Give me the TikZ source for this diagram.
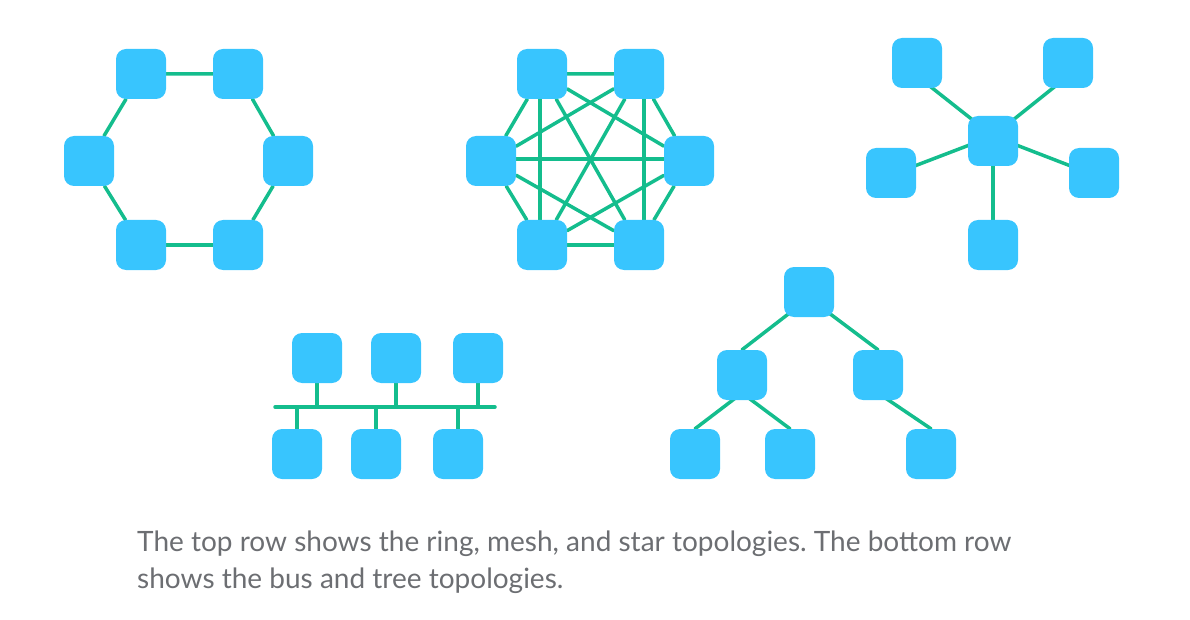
\documentclass[tikz,border=0pt]{standalone}
\usepackage{fontspec}
\setmainfont{Lato}
\usetikzlibrary{calc}
\definecolor{nodeblue}{HTML}{38C5FE}
\definecolor{linkgreen}{HTML}{14BD8D}
\definecolor{captiongray}{HTML}{6C6E72}
\pgfdeclarelayer{background}
\pgfsetlayers{background,main}
\frenchspacing
\tikzset{
  host/.style={rectangle, rounded corners=10pt, fill=nodeblue, minimum size=50pt, inner sep=0pt},
  link/.style={draw=linkgreen, line width=3.5pt, line cap=round},
}
\begin{document}
\begin{tikzpicture}[x={(1pt,0)}, y={(0,-1pt)}]
  % canvas
  \useasboundingbox (0,0) rectangle (1190,620);

  % ---------- ring ----------
  \node[host] (r1) at (141,74) {};
  \node[host] (r2) at (238,74) {};
  \node[host] (r3) at (288,161) {};
  \node[host] (r4) at (238,245) {};
  \node[host] (r5) at (141,245) {};
  \node[host] (r6) at (89,161) {};
  \begin{pgfonlayer}{background}
    \draw[link] (r1) -- (r2) -- (r3) -- (r4) -- (r5) -- (r6) -- (r1);
  \end{pgfonlayer}

  % ---------- mesh ----------
  \node[host] (m1) at (542,74) {};
  \node[host] (m2) at (639,74) {};
  \node[host] (m3) at (689,161) {};
  \node[host] (m4) at (639,245) {};
  \node[host] (m5) at (542,245) {};
  \node[host] (m6) at (491,161) {};
  \begin{pgfonlayer}{background}
    \draw[link] (m1) -- (m2) -- (m3) -- (m4) -- (m5) -- (m6) -- (m1);
    \draw[link] (m1) -- (m3);
    \draw[link] (m1) -- (m4);
    \draw[link] ($(m1)+(-2,0)$) -- ($(m5)+(-2,0)$);
    \draw[link] ($(m2)+(5,0)$) -- ($(m4)+(5,0)$);
    \draw[link] (m2) -- (m5);
    \draw[link] (m2) -- (m6);
    \draw[link] ($(m3)+(0,-2)$) -- ($(m6)+(0,-2)$);
    \draw[link] (m3) -- (m5);
    \draw[link] (m4) -- (m6);
  \end{pgfonlayer}

  % ---------- star ----------
  \node[host] (hub) at (993,141) {};
  \node[host] (s1) at (917,63) {};
  \node[host] (s2) at (1068,63) {};
  \node[host] (s3) at (891,173) {};
  \node[host] (s4) at (1094,173) {};
  \node[host] (s5) at (993,245) {};
  \coordinate (hubc) at ($(hub)+(0,-5)$);
  \begin{pgfonlayer}{background}
    \draw[link] (hubc) -- ($(s1)+(0,13)$);
    \draw[link] (hubc) -- ($(s2)+(0,13)$);
    \draw[link] (hubc) -- ($(s3)+(0,2)$);
    \draw[link] (hubc) -- ($(s4)+(0,2)$);
    \draw[link] (hub) -- (s5);
  \end{pgfonlayer}

  % ---------- bus ----------
  \node[host] (bt1) at (317,358) {};
  \node[host] (bt2) at (396,358) {};
  \node[host] (bt3) at (478,358) {};
  \node[host] (bb1) at (297,454) {};
  \node[host] (bb2) at (376,454) {};
  \node[host] (bb3) at (458,454) {};
  \coordinate (busL) at (275,407);
  \coordinate (busR) at (495,407);
  \begin{pgfonlayer}{background}
    \draw[link] (busL) -- (busR);
    \foreach \n in {bt1,bt2,bt3,bb1,bb2,bb3}
      \draw[link] (\n) -- (\n |- busL);
  \end{pgfonlayer}

  % ---------- tree ----------
  \node[host] (root) at (809,292) {};
  \node[host] (tl) at (742,375) {};
  \node[host] (tr) at (878,375) {};
  \node[host] (tll) at (695,454) {};
  \node[host] (tlr) at (790,454) {};
  \node[host] (trr) at (931,454) {};
  \begin{pgfonlayer}{background}
    \draw[link] ($(root)+(0,6)$) -- (tl.north);
    \draw[link] ($(root)+(0,6)$) -- (tr.north);
    \draw[link] ($(tl)+(0,18)$) -- (tll.north);
    \draw[link] ($(tl)+(0,18)$) -- (tlr.north);
    \draw[link] ($(tr)+(0,18)$) -- (trr.north);
  \end{pgfonlayer}

  % ---------- caption ----------
  \node[anchor=base west, inner sep=0pt, align=left, text=captiongray,
        font=\fontsize{28}{37}\selectfont] (caption) at (137,588)
    {The top row shows the ring, mesh, and star topologies. The bottom row\\
     shows the bus and tree topologies.};
\end{tikzpicture}
\end{document}
